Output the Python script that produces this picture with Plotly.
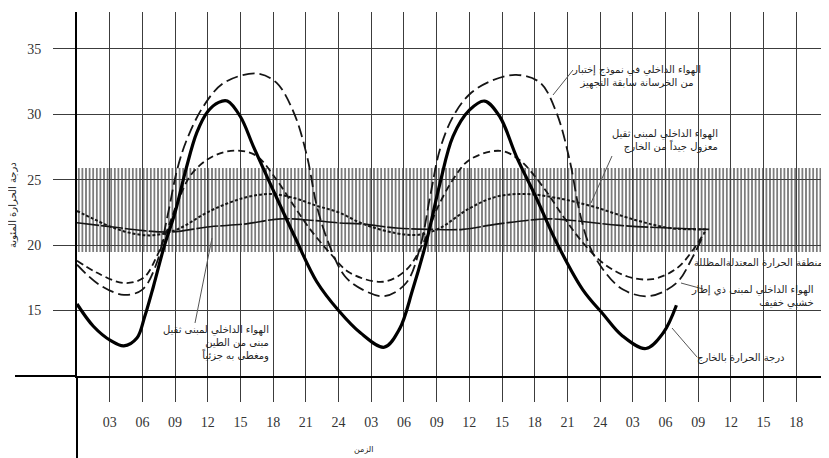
import plotly.graph_objects as go

# ---------------- data (hours from start, temperature °C) ----------------
outside_h = [0, 1.5, 3.1, 4.3, 5.5, 6.2, 7.0, 8.0, 9.0, 10.0, 11.0, 12.0, 13.0, 13.8, 15.0, 16.2, 18.0, 20.0, 22.0, 24.0,
             26.0, 28.2, 29.6, 30.8, 32.1, 33.3, 34.5, 36.0, 37.4, 38.8, 40.3, 42.2, 44.0, 46.4, 48.3, 50.0, 52.2, 53.8, 55.0]
outside_t = [15.5, 13.8, 12.7, 12.3, 12.9, 14.5, 16.8, 19.9, 22.5, 25.8, 28.6, 30.2, 30.9, 31.0, 29.8, 27.5, 24.2, 20.6, 17.2, 15.0,
             13.3, 12.2, 13.6, 16.6, 20.4, 24.7, 28.3, 30.3, 31.0, 29.8, 26.8, 23.5, 20.2, 16.6, 14.7, 13.1, 12.1, 13.3, 15.4]

concrete_h = [0, 2, 4.3, 6, 7.3, 8.3, 9.2, 10.1, 11.6, 13.5, 16.5, 18.3, 19.9, 21.1, 22, 23.2, 24.6, 26.2, 28.2, 30.2,
              31.5, 32.4, 33.3, 34.5, 36, 37.9, 40.3, 42.5, 44, 45.2, 46.1, 47, 48.3, 50.1, 52.5, 55, 56.5, 57.6]
concrete_t = [18.5, 17.0, 16.2, 16.6, 18.6, 22.2, 25.8, 28.1, 30.6, 32.4, 33.1, 32.4, 30.1, 26.8, 23.0, 19.9, 17.6, 16.6, 16.1, 17.1,
              19.9, 23.7, 27.3, 29.8, 31.5, 32.5, 33.0, 32.4, 30.1, 26.5, 22.6, 20.0, 18.1, 16.6, 16.1, 17.1, 19.1, 21.0]

wood_h = [0, 1.8, 4.3, 6.1, 7.3, 8.3, 9.2, 10.4, 11.9, 13.5, 15, 16.5, 18.3, 19.9, 21.4, 23.2, 25, 28.1, 30.2, 31.8,
          33, 34.5, 36, 38.8, 40.6, 42.8, 44.6, 46.4, 48.3, 50.5, 52.8, 55, 56.5, 57.6]
wood_t = [18.8, 17.9, 17.1, 17.5, 19.1, 21.2, 23.2, 25.3, 26.5, 27.1, 27.2, 26.8, 25.0, 23.0, 21.2, 19.4, 17.9, 17.2, 18.1, 20.2,
          22.7, 25.0, 26.5, 27.2, 26.5, 24.4, 22.2, 20.2, 18.6, 17.6, 17.4, 18.2, 19.6, 21.0]

insulated_h = [0, 1.5, 3.1, 5, 7, 9.2, 12.2, 15.3, 17.7, 19.9, 22, 24, 26.3, 29.3, 31.5, 33.3, 36, 38.5, 41.2, 44,
               47.1, 51.3, 54.4, 57.8]
insulated_t = [22.6, 22.0, 21.4, 20.9, 20.75, 21.2, 22.6, 23.6, 23.9, 23.6, 23.0, 22.5, 21.6, 20.9, 20.8, 21.3, 22.8, 23.7, 23.9, 23.6,
               23.0, 21.9, 21.3, 21.2]

clay_h = [0, 3.1, 6.1, 8.6, 12.2, 15.3, 18.7, 21.4, 23.9, 26.3, 29.3, 32.4, 35.4, 38.5, 43.1, 45.2, 49.8, 54.4, 58]
clay_t = [21.7, 21.4, 21.1, 21.0, 21.4, 21.6, 22.0, 21.9, 21.7, 21.6, 21.3, 21.2, 21.2, 21.6, 22.0, 21.9, 21.5, 21.3, 21.2]

comfort_low = 19.5
comfort_high = 25.9

x_tick_vals = [3, 6, 9, 12, 15, 18, 21, 24, 27, 30, 33, 36, 39, 42, 45, 48, 51, 54, 57, 60, 63, 66, 69]
x_tick_text = ["03", "06", "09", "12", "15", "18", "21", "24", "03", "06", "09", "12", "15", "18", "21", "24",
               "03", "06", "09", "12", "15", "18", "21"]
y_tick_vals = [15, 20, 25, 30, 35]

# ---------------- layout geometry (page pixels; the page body adds an 8px offset) ----------------
OFF = 8
PAGE_W, PAGE_H = 829, 458
W, H = PAGE_W - OFF, PAGE_H - OFF
PLOT_L, PLOT_T, PLOT_R, PLOT_B = 77, 12, 829, 376          # plot area in page pixels
L, T = PLOT_L - OFF, PLOT_T - OFF
R, B = (PAGE_W - OFF) - (PLOT_R - OFF), H - (PLOT_B - OFF)
X_RANGE = [0, 69]
Y_RANGE = [10, 37.8]
PW, PH = PLOT_R - PLOT_L, PLOT_B - PLOT_T


def px2x(px):
    return X_RANGE[0] + (px - PLOT_L) / PW * (X_RANGE[1] - X_RANGE[0])


def py2y(py):
    return Y_RANGE[0] + (PLOT_B - py) / PH * (Y_RANGE[1] - Y_RANGE[0])


def ppx(px):
    return (px - PLOT_L) / PW


def ppy(py):
    return (PLOT_B - py) / PH


AR_FONT = "DejaVu Sans"
INK = "#151515"

fig = go.Figure()

# comfort zone (hatched band)
fig.add_trace(go.Bar(
    x=[(X_RANGE[0] + X_RANGE[1] + 2) / 2], y=[comfort_high - comfort_low], base=[comfort_low],
    width=[X_RANGE[1] - X_RANGE[0] + 2],
    marker=dict(color="#444444", line=dict(width=0),
                pattern=dict(shape="|", size=3.6, solidity=0.35, fillmode="replace")),
    hoverinfo="skip", showlegend=False,
))

fig.add_trace(go.Scatter(x=clay_h, y=clay_t, mode="lines", line=dict(color=INK, width=1.6, dash="22px,2px", shape="spline"),
                         showlegend=False))
fig.add_trace(go.Scatter(x=insulated_h, y=insulated_t, mode="lines", line=dict(color=INK, width=2, dash="3px,2px", shape="spline"),
                         showlegend=False))
fig.add_trace(go.Scatter(x=wood_h, y=wood_t, mode="lines", line=dict(color=INK, width=1.8, dash="7px,4px", shape="spline"),
                         showlegend=False))
fig.add_trace(go.Scatter(x=concrete_h, y=concrete_t, mode="lines", line=dict(color=INK, width=1.8, dash="12px,5px", shape="spline"),
                         showlegend=False))
fig.add_trace(go.Scatter(x=outside_h, y=outside_t, mode="lines", line=dict(color="#000", width=3.2, shape="spline"),
                         showlegend=False))

grid = "#3c3c3c"
fig.update_xaxes(range=X_RANGE, tickvals=x_tick_vals, ticktext=x_tick_text, showgrid=True, gridcolor=grid, gridwidth=1.1,
                 zeroline=False, showline=True, linecolor="#000", linewidth=2, ticks="outside", ticklen=24, tickwidth=1.1,
                 tickcolor=grid, tickfont=dict(family="Liberation Serif", size=14, color="#333"), ticklabelstandoff=8,
                 ticklabeloverflow="allow", automargin=False, fixedrange=True)
fig.update_yaxes(range=Y_RANGE, tickvals=y_tick_vals, showgrid=True, gridcolor=grid, gridwidth=1.1,
                 zeroline=False, showline=True, linecolor="#000", linewidth=2, ticks="outside", ticklen=22, tickwidth=1.1,
                 tickcolor=grid, tickfont=dict(family="Liberation Serif", size=14, color="#333"), ticklabelstandoff=9,
                 automargin=False, fixedrange=True)

shapes = [
    # axis line extensions beyond plot area
    dict(type="line", xref="paper", yref="paper", x0=ppx(15), x1=0, y0=0, y1=0, line=dict(color="#000", width=2)),
    dict(type="line", xref="paper", yref="paper", x0=0, x1=0, y0=0, y1=ppy(PAGE_H), line=dict(color="#000", width=2)),
]
# leader lines (page-pixel endpoints of the callouts)
leaders = [((573, 70), (553, 95)), ((612, 156), (591, 203)), ((703, 289), (681, 283)),
           ((195, 323), (212, 238)), ((697, 357), (672, 328))]
for (ax_, ay_), (bx_, by_) in leaders:
    shapes.append(dict(type="line", xref="x", yref="y", x0=px2x(ax_), y0=py2y(ay_), x1=px2x(bx_), y1=py2y(by_),
                       line=dict(color="#555", width=1)))

annotations = []


def label(text, px, py, xanchor="right", align="right", size=10):
    annotations.append(dict(text=text, xref="paper", yref="paper", x=ppx(px), y=ppy(py), xanchor=xanchor,
                            yanchor="middle", align=align, showarrow=False,
                            font=dict(family=AR_FONT, size=size, color="#222")))


label("الهواء الداخلي في نموذج إختبار<br>من الخرسانة سابقة التجهيز", 636, 76, xanchor="center", align="center")
label("الهواء الداخلي لمبنى ثقيل<br>معزول جيداً من الخارج", 720, 140)
label("منطقة الحرارة المعتدلةالمظللة", 825, 262)
label("الهواء الداخلي لمبنى ذي إطار<br>خشبي خفيف", 816, 296)
label("الهواء الداخلي لمبنى ثقيل<br>مبنى من الطين<br>ومغطى به جزئياً", 271, 343)
label("درجة الحرارة بالخارج", 787, 358)
label("الزمن", 363, 449, xanchor="center", align="center", size=8)
annotations.append(dict(text="درجة الحرارة المئوية", xref="paper", yref="paper", x=ppx(12), y=ppy(205),
                        xanchor="center", yanchor="middle", textangle=-90, showarrow=False,
                        font=dict(family=AR_FONT, size=10, color="#222")))

fig.update_layout(width=W, height=H, autosize=False, margin=dict(l=L, r=R, t=T, b=B, pad=0),
                  paper_bgcolor="white", plot_bgcolor="white", showlegend=False, bargap=0,
                  shapes=shapes, annotations=annotations)

fig.write_html("out.html")
